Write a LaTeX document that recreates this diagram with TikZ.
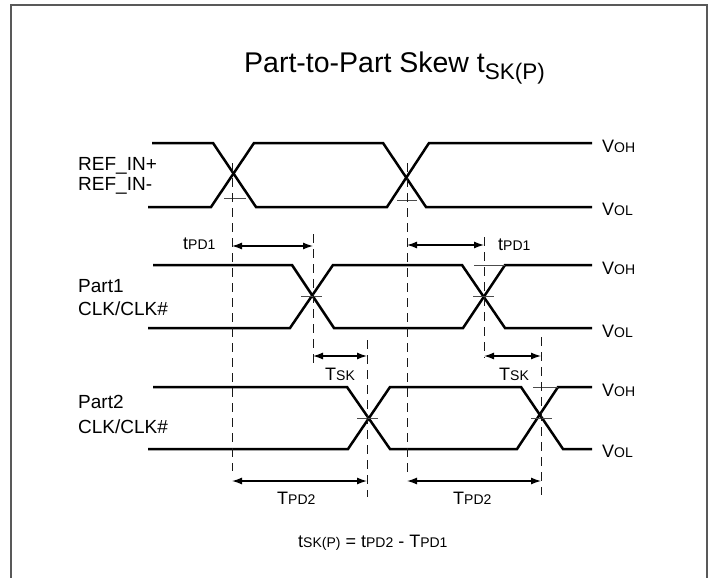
\documentclass[tikz,border=0pt]{standalone}
\usepackage{fontspec}
\setmainfont{Liberation Sans}
\usetikzlibrary{arrows.meta}
\newcommand\tsig[2]{{\fontsize{18}{22}\selectfont #1}{\fontsize{14}{17}\selectfont #2}}
\begin{document}
\begin{tikzpicture}[x=1pt,y=-1pt,
  sigline/.style={line width=2.5pt, line join=miter},
  guide/.style={line width=1pt, dash pattern=on 9pt off 6pt, draw=black!90},
  tickline/.style={line width=0.9pt, draw=black!70},
  dimarrow/.style={line width=1.3pt, {Latex[length=10pt,width=7pt]}-{Latex[length=10pt,width=7pt]}},
  lbl/.style={inner sep=0pt, anchor=base west, font=\fontsize{19}{23}\selectfont},
  dimlbl/.style={inner sep=0pt, anchor=base west},
  frameline/.style={line width=1.5pt, draw=black!65}]
\useasboundingbox (0,0) rectangle (712,578);
% frame
\coordinate (fbl) at (11,579);
\coordinate (ftl) at (11,5);
\coordinate (ftr) at (707,5);
\coordinate (fbr) at (707,579);
\draw[frameline] (fbl) -- (ftl) -- (ftr) -- (fbr);
% title
\node[inner sep=0pt, anchor=base west] (title) at (244,73)
  {{\fontsize{28.5}{34}\selectfont Part-to-Part Skew t}\raisebox{-7pt}{\fontsize{22.5}{26}\selectfont SK(P)}};
% left labels
\node[lbl] (refp) at (78,170) {REF\_IN+};
\node[lbl] (refm) at (78,190) {REF\_IN-};
\node[lbl] (p1a) at (78,292) {Part1};
\node[lbl] (p1b) at (78,315) {CLK/CLK\#};
\node[lbl] (p2a) at (78,408) {Part2};
\node[lbl] (p2b) at (78,433) {CLK/CLK\#};
% level labels
\node[dimlbl] (voh0) at (602,152) {\tsig{V}{OH}};
\node[dimlbl] (vol0) at (602,215) {\tsig{V}{OL}};
\node[dimlbl] (voh1) at (602,274) {\tsig{V}{OH}};
\node[dimlbl] (vol1) at (602,337) {\tsig{V}{OL}};
\node[dimlbl] (voh2) at (602,396) {\tsig{V}{OH}};
\node[dimlbl] (vol2) at (602,457) {\tsig{V}{OL}};
% REF waveform
\draw[sigline] (152,143) -- (213,143) -- (256,207) -- (387,207) -- (429,143) -- (592,143);
\draw[sigline] (148,207) -- (211,207) -- (254,143) -- (383,143) -- (426,207) -- (592,207);
% Part1 waveform
\draw[sigline] (153,265) -- (292,265) -- (334,328) -- (463,328) -- (505,265) -- (592,265);
\draw[sigline] (148,328) -- (290,328) -- (333,265) -- (462,265) -- (505,328) -- (592,328);
% Part2 waveform
\draw[sigline] (153,387) -- (347,387) -- (390,449) -- (517,449) -- (558,387) -- (592,387);
\draw[sigline] (148,449) -- (348,449) -- (390,387) -- (521,387) -- (563,449) -- (592,449);
% ticks
\coordinate (k1a) at (224,198); \coordinate (k1b) at (246,198);
\coordinate (k2a) at (397,200); \coordinate (k2b) at (417,200);
\coordinate (k3a) at (301,296); \coordinate (k3b) at (322,296);
\coordinate (k4a) at (473,296); \coordinate (k4b) at (494,296);
\coordinate (k5a) at (474,265); \coordinate (k5b) at (505,265);
\coordinate (k6a) at (357,418); \coordinate (k6b) at (378,418);
\coordinate (k7a) at (531,418); \coordinate (k7b) at (552,418);
\coordinate (k8a) at (533,387); \coordinate (k8b) at (558,387);
\foreach \k in {1,...,8} \draw[tickline] (k\k a) -- (k\k b);
% dashed guides
\coordinate (g1t) at (232,163); \coordinate (g1b) at (232,471);
\coordinate (g2t) at (407,163); \coordinate (g2b) at (407,472);
\coordinate (g3t) at (313,234); \coordinate (g3b) at (313,367);
\coordinate (g4t) at (484,237); \coordinate (g4b) at (484,358);
\coordinate (g5t) at (367,340); \coordinate (g5b) at (367,497);
\coordinate (g6t) at (541,337); \coordinate (g6b) at (541,495);
\foreach \g in {1,...,6} \draw[guide] (g\g t) -- (g\g b);
% dimension arrows
\coordinate (a1l) at (232,246); \coordinate (a1r) at (313,246);
\coordinate (a2l) at (407,245); \coordinate (a2r) at (484,245);
\coordinate (a3l) at (313,356); \coordinate (a3r) at (367,356);
\coordinate (a4l) at (484,356); \coordinate (a4r) at (541,356);
\coordinate (a5l) at (232,481); \coordinate (a5r) at (367,481);
\coordinate (a6l) at (407,481); \coordinate (a6r) at (541,481);
\foreach \a in {1,...,6} \draw[dimarrow] (a\a l) -- (a\a r);
% dimension labels
\node[dimlbl] (tpd1a) at (183,249) {\tsig{t}{PD1}};
\node[dimlbl] (tpd1b) at (498,250) {\tsig{t}{PD1}};
\node[dimlbl] (tska) at (325,380) {\tsig{T}{SK}};
\node[dimlbl] (tskb) at (499,380) {\tsig{T}{SK}};
\node[dimlbl] (tpd2a) at (277,504) {\tsig{T}{PD2}};
\node[dimlbl] (tpd2b) at (453,504) {\tsig{T}{PD2}};
\node[dimlbl] (formula) at (298,547)
  {\tsig{t}{SK(P)}{\fontsize{18}{22}\selectfont\ =\ }\tsig{t}{PD2}{\fontsize{18}{22}\selectfont\ -\ }\tsig{T}{PD1}};
\end{tikzpicture}
\end{document}
